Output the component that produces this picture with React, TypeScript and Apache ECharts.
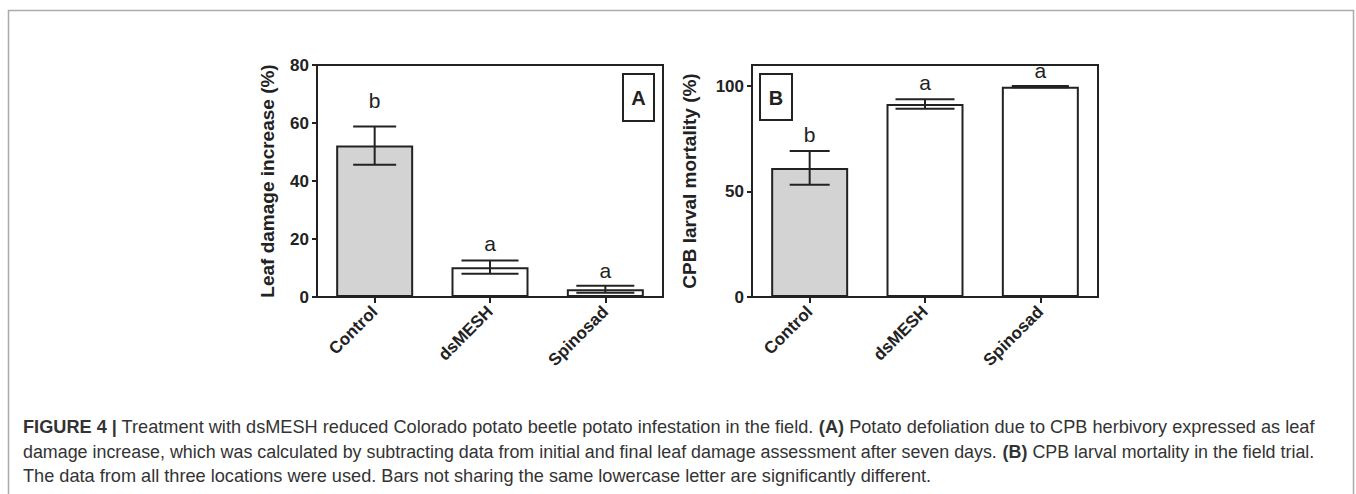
import React, { useEffect, useRef } from "react";
import * as echarts from "echarts";

// ---- data ----
const categories = ["Control", "dsMESH", "Spinosad"];
const leafDamageMean = [52.2, 10.3, 2.7];
const leafDamageErr = [6.6, 2.3, 1.2];
const leafDamageLetters = ["b", "a", "a"];
const mortalityMean = [61.2, 91.5, 99.7];
const mortalityErr = [8.0, 2.3, 0.3];
const mortalityLetters = ["b", "a", "a"];
const leafTicks = [0, 20, 40, 60, 80];
const mortalityTicks = [0, 50, 100];

// ---- styles ----
const FONT = '"Liberation Sans", Arial, Helvetica, sans-serif';
const INK = "#222";
const capWidthsA = [43, 57, 58];
const capWidthsB = [40, 59, 57];
const letterGapA = [15, 6, 5];
const letterGapB = [6, 6, 5];
const barColors = ["#d3d3d3", "#ffffff", "#ffffff"];

const captionLines: { t: string; b?: boolean }[][] = [
  [
    { t: "FIGURE 4 |", b: true },
    { t: " Treatment with dsMESH reduced Colorado potato beetle potato infestation in the field. " },
    { t: "(A)", b: true },
    { t: " Potato defoliation due to CPB herbivory expressed as leaf" },
  ],
  [
    { t: "damage increase, which was calculated by subtracting data from initial and final leaf damage assessment after seven days. " },
    { t: "(B)", b: true },
    { t: " CPB larval mortality in the field trial." },
  ],
  [
    { t: "The data from all three locations were used. Bars not sharing the same lowercase letter are significantly different." },
  ],
];

const CAP_SIZE = 18;

function measureLine(segs: { t: string; b?: boolean }[]) {
  const c = document.createElement("canvas").getContext("2d");
  if (!c) return 1300;
  let w = 0;
  for (const s of segs) {
    c.font = `${s.b ? "bold " : ""}${CAP_SIZE}px ${FONT}`;
    w += c.measureText(s.t).width;
  }
  return w;
}

function errorSeries(
  gridIdx: number,
  means: number[],
  errs: number[],
  letters: string[],
  caps: number[],
  gaps: number[]
) {
  return {
    type: "custom",
    xAxisIndex: gridIdx,
    yAxisIndex: gridIdx,
    clip: false,
    z: 5,
    data: means.map((m, i) => [i, m, errs[i]]),
    encode: { x: 0, y: 1 },
    renderItem: (params: any, api: any) => {
      const i = api.value(0);
      const m = api.value(1);
      const e = api.value(2);
      const top = api.coord([i, m + e]);
      const bot = api.coord([i, m - e]);
      const half = caps[params.dataIndex] / 2;
      const st = { stroke: INK, lineWidth: 2 };
      return {
        type: "group",
        children: [
          { type: "line", shape: { x1: top[0], y1: top[1], x2: bot[0], y2: bot[1] }, style: st },
          { type: "line", shape: { x1: top[0] - half, y1: top[1], x2: top[0] + half, y2: top[1] }, style: st },
          { type: "line", shape: { x1: bot[0] - half, y1: bot[1], x2: bot[0] + half, y2: bot[1] }, style: st },
          {
            type: "text",
            x: top[0],
            y: top[1] - gaps[params.dataIndex],
            style: {
              text: letters[params.dataIndex],
              fill: INK,
              font: `21px ${FONT}`,
              align: "center",
              verticalAlign: "bottom",
            },
          },
        ],
      };
    },
  };
}

function yAxisCfg(gridIdx: number, max: number, interval: number, ticks: number[], name: string, gap: number) {
  return {
    type: "value",
    gridIndex: gridIdx,
    min: 0,
    max,
    interval,
    name,
    nameLocation: "middle",
    nameGap: gap,
    nameTextStyle: { fontFamily: FONT, fontWeight: "bold", fontSize: 19, color: INK },
    axisLine: { show: true, lineStyle: { color: INK, width: 2 } },
    axisTick: { show: true, length: 5, lineStyle: { color: INK, width: 2 }, customValues: ticks },
    axisLabel: {
      fontFamily: FONT,
      fontWeight: "bold",
      fontSize: 17,
      color: INK,
      margin: 8,
      customValues: ticks,
    },
    splitLine: { show: false },
  };
}

function xAxisCfg(gridIdx: number) {
  return {
    type: "category",
    gridIndex: gridIdx,
    data: categories,
    axisLine: { show: true, lineStyle: { color: INK, width: 2 } },
    axisTick: { show: true, alignWithLabel: true, length: 6, lineStyle: { color: INK, width: 2 } },
    axisLabel: {
      rotate: 45,
      interval: 0,
      fontFamily: FONT,
      fontWeight: "bold",
      fontSize: 17,
      color: INK,
      margin: 12,
    },
  };
}

function barSeries(gridIdx: number, means: number[]) {
  return {
    type: "bar",
    xAxisIndex: gridIdx,
    yAxisIndex: gridIdx,
    barWidth: 77,
    data: means.map((v, i) => ({
      value: v,
      itemStyle: { color: barColors[i], borderColor: INK, borderWidth: 2 },
    })),
  };
}

export default function App() {
  const ref = useRef<HTMLDivElement>(null);
  useEffect(() => {
    if (!ref.current) return;
    const chart = echarts.init(ref.current, undefined, { renderer: "svg" });

    const targetW = 1291;
    const w1 = measureLine(captionLines[0]);
    const w2 = measureLine(captionLines[1]);
    const s1 = targetW / w1;
    const scales = [s1, targetW / w2, s1];
    const baselines = [427, 452, 476];
    const rich = {
      b: { fontFamily: FONT, fontWeight: "bold", fontSize: CAP_SIZE, fill: "#333" },
      n: { fontFamily: FONT, fontWeight: "normal", fontSize: CAP_SIZE, fill: "#333" },
    };
    const captionEls = captionLines.map((segs, k) => ({
      type: "text",
      x: 23,
      y: baselines[k],
      scaleX: scales[k],
      style: {
        text: segs.map((s) => `{${s.b ? "b" : "n"}|${s.t}}`).join(""),
        rich,
        font: `${CAP_SIZE}px ${FONT}`,
        fill: "#333",
        verticalAlign: "middle",
        align: "left",
      },
    }));

    chart.setOption({
      animation: false,
      backgroundColor: "#fff",
      grid: [
        { left: 317, top: 65, width: 346, height: 232, show: true, borderColor: INK, borderWidth: 2, backgroundColor: "transparent" },
        { left: 752, top: 65, width: 346, height: 232, show: true, borderColor: INK, borderWidth: 2, backgroundColor: "transparent" },
      ],
      xAxis: [xAxisCfg(0), xAxisCfg(1)],
      yAxis: [
        yAxisCfg(0, 80, 20, leafTicks, "Leaf damage increase (%)", 40),
        yAxisCfg(1, 110, 50, mortalityTicks, "CPB larval mortality (%)", 53),
      ],
      series: [
        barSeries(0, leafDamageMean),
        barSeries(1, mortalityMean),
        errorSeries(0, leafDamageMean, leafDamageErr, leafDamageLetters, capWidthsA, letterGapA),
        errorSeries(1, mortalityMean, mortalityErr, mortalityLetters, capWidthsB, letterGapB),
      ],
      graphic: [
        {
          type: "rect",
          shape: { x: 8.5, y: 10.5, width: 1345, height: 520 },
          style: { fill: "none", stroke: "#aaa", lineWidth: 1.5 },
          silent: true,
        },
        {
          type: "rect",
          shape: { x: 623, y: 74, width: 31, height: 47 },
          style: { fill: "#fff", stroke: INK, lineWidth: 2 },
        },
        {
          type: "text",
          x: 638.5,
          y: 98,
          style: { text: "A", font: `bold 20px ${FONT}`, fill: INK, align: "center", verticalAlign: "middle" },
        },
        {
          type: "rect",
          shape: { x: 760, y: 74, width: 32, height: 46 },
          style: { fill: "#fff", stroke: INK, lineWidth: 2 },
        },
        {
          type: "text",
          x: 776,
          y: 97.5,
          style: { text: "B", font: `bold 20px ${FONT}`, fill: INK, align: "center", verticalAlign: "middle" },
        },
        ...captionEls,
      ],
    });
    return () => chart.dispose();
  }, []);
  return (
    <div
      ref={ref}
      style={{ position: "fixed", left: 0, top: 0, width: 1356, height: 494, background: "#fff" }}
    />
  );
}
